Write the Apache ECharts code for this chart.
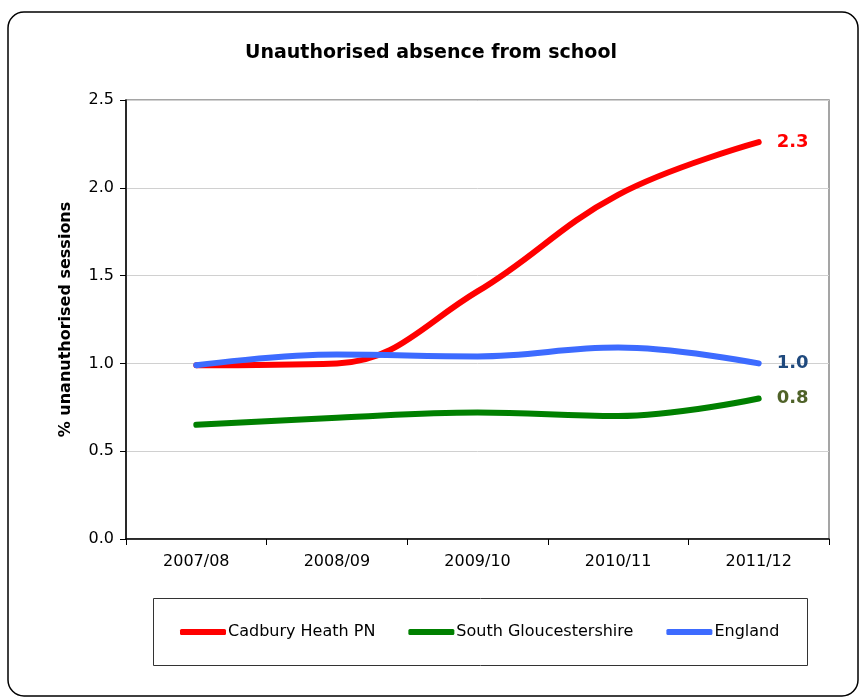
<!DOCTYPE html>
<html>
<head>
<meta charset="utf-8">
<script src="https://cdn.jsdelivr.net/npm/echarts@6/dist/echarts.min.js"></script>
<style>
  html, body { margin: 0; padding: 0; background: #fff; }
  #chart { width: 861px; height: 697px; }
</style>
</head>
<body>
<div id="chart"></div>
<script>
// School years on the category axis
const years = ['2007/08', '2008/09', '2009/10', '2010/11', '2011/12'];

// % of sessions missed through unauthorised absence
const cadburyHeath = [0.99, 1.00, 1.41, 1.96, 2.26];
const southGlos = [0.65, 0.69, 0.72, 0.70, 0.80];
const england = [0.99, 1.05, 1.04, 1.09, 1.00];

// Value axis ticks
const yTicks = [0, 0.5, 1.0, 1.5, 2.0, 2.5];

const FONT = '"DejaVu Sans", Arial, sans-serif';

function endLabel(color) {
  return {
    show: true,
    distance: 18,
    formatter: p => Number(p.value).toFixed(1),
    color: color,
    fontFamily: FONT,
    fontSize: 18,
    fontWeight: 'bold'
  };
}

function lineSeries(name, data, color, labelColor) {
  return {
    name: name,
    type: 'line',
    data: data,
    smooth: 0.4,
    symbol: 'none',
    lineStyle: { color: color, width: 6, cap: 'round', join: 'round' },
    itemStyle: { color: color },
    endLabel: endLabel(labelColor),
    z: 3
  };
}

const chart = echarts.init(document.getElementById('chart'), null, { renderer: 'canvas' });

chart.setOption({
  animation: false,
  backgroundColor: '#fff',
  title: {
    text: 'Unauthorised absence from school',
    left: 426,
    textAlign: 'center',
    top: 39,
    textStyle: { fontFamily: FONT, fontSize: 19, fontWeight: 'bold', color: '#000' }
  },
  graphic: [
    {
      type: 'rect',
      shape: { x: 8, y: 12, width: 850, height: 684, r: 16 },
      style: { fill: 'none', stroke: '#000', lineWidth: 1.5 },
      z: -1
    },
    {
      type: 'rect',
      shape: { x: 153.5, y: 598.5, width: 654, height: 67 },
      style: { fill: 'none', stroke: '#333', lineWidth: 1 },
      z: -1
    }
  ],
  legend: {
    left: 180,
    top: 624,
    padding: 0,
    itemWidth: 46,
    itemHeight: 6,
    itemGap: 33,
    icon: 'roundRect',
    textStyle: { fontFamily: FONT, fontSize: 16, color: '#000', padding: [0, 0, 0, -3] },
    data: ['Cadbury Heath PN', 'South Gloucestershire', 'England']
  },
  grid: {
    left: 126,
    right: 32,
    top: 100,
    bottom: 158,
    show: true,
    borderColor: '#888',
    borderWidth: 1.5,
    containLabel: false
  },
  xAxis: {
    type: 'category',
    data: years,
    boundaryGap: true,
    axisLine: { lineStyle: { color: '#000', width: 1.5 } },
    axisTick: { show: true, length: 6, alignWithLabel: false, lineStyle: { color: '#000' } },
    axisLabel: { fontFamily: FONT, fontSize: 16, color: '#000', margin: 15 }
  },
  yAxis: {
    type: 'value',
    min: yTicks[0],
    max: yTicks[yTicks.length - 1],
    interval: 0.5,
    name: '% unanuthorised sessions',
    nameLocation: 'middle',
    nameGap: 52,
    nameTextStyle: { fontFamily: FONT, fontSize: 16, fontWeight: 'bold', color: '#000' },
    axisLine: { show: true, lineStyle: { color: '#000', width: 1.5 } },
    axisTick: { show: true, length: 6, lineStyle: { color: '#000' } },
    axisLabel: {
      fontFamily: FONT, fontSize: 16, color: '#000', margin: 12,
      formatter: v => v.toFixed(1)
    },
    splitLine: { show: true, lineStyle: { color: '#d0d0d0', width: 1 } }
  },
  series: [
    lineSeries('Cadbury Heath PN', cadburyHeath, '#ff0000', '#ff0000'),
    lineSeries('South Gloucestershire', southGlos, '#008000', '#4f6228'),
    lineSeries('England', england, '#3d6bff', '#1f497d')
  ]
});
</script>
</body>
</html>
